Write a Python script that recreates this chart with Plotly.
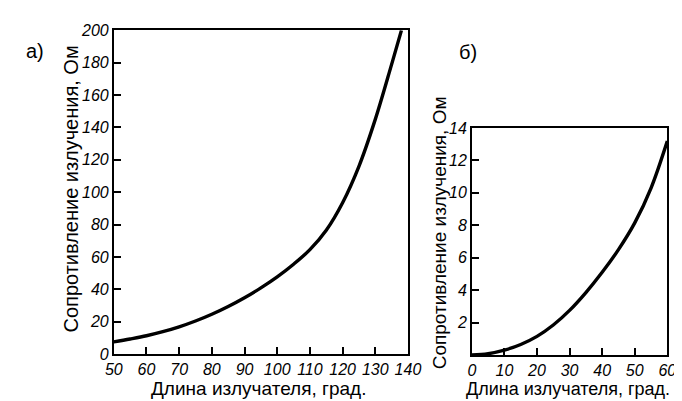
import plotly.graph_objects as go

# Panel а)
len_a = [50, 55, 60, 65, 70, 75, 80, 85, 90, 95, 100, 105, 110, 115, 120, 125, 130, 135, 138]
res_a = [7.5, 9.3, 11.3, 13.8, 16.8, 20.4, 24.6, 29.4, 34.8, 40.9, 47.7, 55.5, 64.5, 76.5, 93.5, 116.0, 145.0, 179.0, 200.0]
ticks_ax = [50, 60, 70, 80, 90, 100, 110, 120, 130, 140]
ticks_ay = [0, 20, 40, 60, 80, 100, 120, 140, 160, 180, 200]

# Panel б)
len_b = [0, 5, 10, 15, 20, 25, 30, 35, 40, 45, 50, 55, 60]
res_b = [0.0, 0.08, 0.3, 0.65, 1.15, 1.85, 2.75, 3.85, 5.1, 6.5, 8.15, 10.3, 13.2]
ticks_bx = [0, 10, 20, 30, 40, 50, 60]
ticks_by = [2, 4, 6, 8, 10, 12, 14]

xtitle = "Длина излучателя, град."
ytitle = "Сопротивление излучения, Ом"

def itl(vals):
    return ["<i>%d</i>" % v for v in vals]

fig = go.Figure()
fig.add_trace(go.Scatter(x=len_a, y=res_a, mode="lines", line=dict(color="black", width=3.4, shape="spline", smoothing=1.0),
                         xaxis="x", yaxis="y", showlegend=False))
fig.add_trace(go.Scatter(x=len_b, y=res_b, mode="lines", line=dict(color="black", width=3.4, shape="spline", smoothing=1.0),
                         xaxis="x2", yaxis="y2", showlegend=False))

W, H = 682, 401
def px(x): return x / W
def py(y): return (H - y) / H

tickfont = dict(family="Liberation Sans Narrow, Liberation Sans", size=16, color="black", style="italic")
axcommon = dict(showgrid=False, zeroline=False, showline=True, mirror=True, linecolor="black", linewidth=1.6,
                ticks="inside", ticklen=7, tickwidth=1.5, tickcolor="black", tickfont=tickfont, tickangle=0)

fig.update_layout(
    width=W, height=H,
    margin=dict(l=0, r=0, t=0, b=0),
    paper_bgcolor="white", plot_bgcolor="white",
    xaxis=dict(domain=[px(100), px(404)], range=[50, 140], tickvals=ticks_ax, ticktext=itl(ticks_ax), anchor="y", **axcommon),
    yaxis=dict(domain=[py(353), py(15)], range=[0, 200], tickvals=ticks_ay, ticktext=itl(ticks_ay), anchor="x", **axcommon),
    xaxis2=dict(domain=[px(470), px(672)], range=[0, 60], tickvals=ticks_bx, ticktext=itl(ticks_bx), anchor="y2", **axcommon),
    yaxis2=dict(domain=[py(354), py(117)], range=[0, 14], tickvals=ticks_by, ticktext=itl(ticks_by), anchor="x2", **axcommon),
)

ann = [
    dict(x=px(250), y=py(389), text=xtitle, size=19),
    dict(x=px(569), y=py(390), text=xtitle, size=18),
    dict(x=px(56), y=py(181), text=ytitle, textangle=-90, size=20),
    dict(x=px(437), y=py(226), text=ytitle, textangle=-90, size=19),
    dict(x=px(19), y=py(37), text="а)", size=20),
    dict(x=px(466), y=py(38), text="б)", size=20),
]
for a in ann:
    size = a.pop("size")
    fig.add_annotation(xref="paper", yref="paper", showarrow=False,
                       font=dict(family="Liberation Sans, Arial", size=size, color="black"),
                       xanchor="center", yanchor="middle", **a)

fig.write_html("out.html")
